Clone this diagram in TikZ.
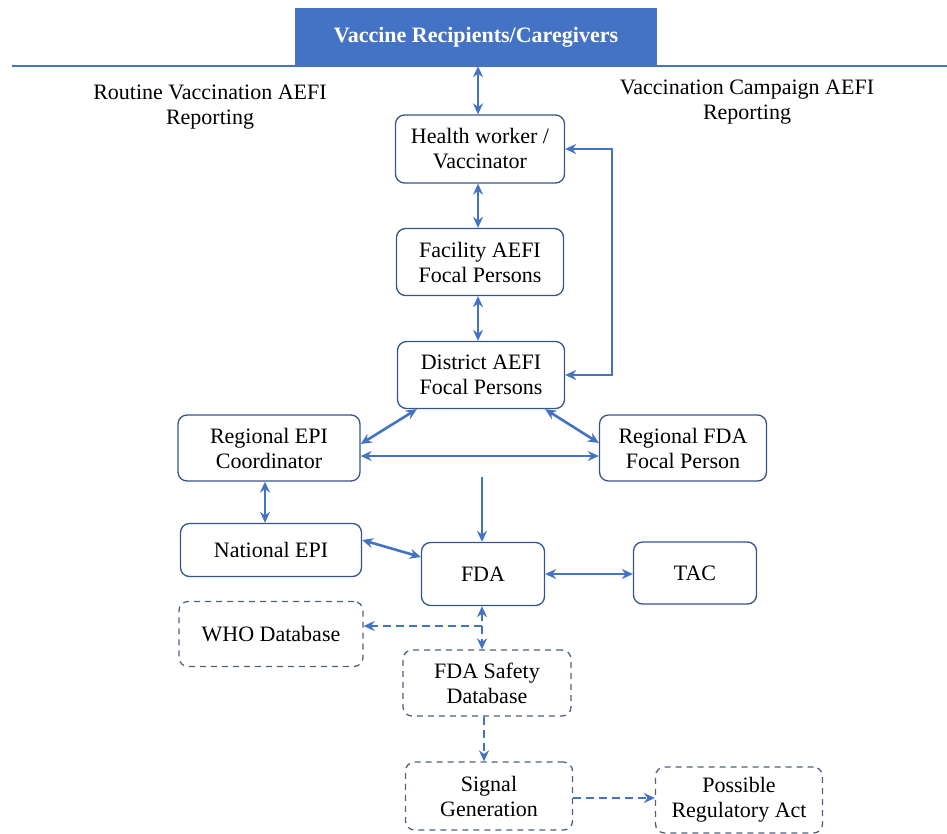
\documentclass[tikz,border=0pt]{standalone}
\usepackage{fontspec}
\setmainfont{Liberation Serif}
\usetikzlibrary{arrows.meta}
\definecolor{aefiblue}{RGB}{68,114,196}
\definecolor{boxline}{RGB}{52,84,140}
\definecolor{dashline}{RGB}{80,96,125}
\begin{document}
\begin{tikzpicture}[x=1pt,y=-1pt]
\tikzstyle{every node}=[font=\fontsize{22}{25}\selectfont, align=center, inner sep=0pt]
\tikzstyle{box}=[draw=boxline, line width=1.3pt, rounded corners=9pt]
\tikzstyle{dbox}=[draw=dashline, line width=1.3pt, rounded corners=9pt, dash pattern=on 6pt off 5pt]
\tikzstyle{link}=[draw=aefiblue, line width=2.6pt, {Stealth[length=11pt,width=10pt]}-{Stealth[length=11pt,width=10pt]}]
\tikzstyle{dlink}=[link, dash pattern=on 8pt off 5pt]
\useasboundingbox (0,0) rectangle (947,833);
\draw (476,37) node (recip) [fill=aefiblue, text=white, font=\fontsize{22}{25}\selectfont\bfseries, minimum width=362, minimum height=58] {Vaccine Recipients/Caregivers};
\draw[aefiblue, line width=2pt] (12,66) -- (947,66);
\draw (210,107) node (routine) {Routine Vaccination AEFI\\Reporting};
\draw (747,102) node (campaign) {Vaccination Campaign AEFI\\Reporting};
\draw (480,149) node (health) [box, minimum width=169, minimum height=68] {Health worker /\\Vaccinator};
\draw (480,262) node (facility) [box, minimum width=167, minimum height=67] {Facility AEFI\\Focal Persons};
\draw (481,375) node (district) [box, minimum width=167, minimum height=67] {District AEFI\\Focal Persons};
\draw (269,448) node (regepi) [box, minimum width=182, minimum height=66] {Regional EPI\\Coordinator};
\draw (683,448) node (regfda) [box, minimum width=167, minimum height=66] {Regional FDA\\Focal Person};
\draw (271,550) node (natepi) [box, minimum width=181, minimum height=53] {National EPI};
\draw (483,574) node (fda) [box, minimum width=123, minimum height=63] {FDA};
\draw (695,573) node (tac) [box, minimum width=123, minimum height=62] {TAC};
\draw (271,634) node (who) [dbox, minimum width=184, minimum height=65] {WHO Database};
\draw (487,683) node (safety) [dbox, minimum width=168, minimum height=66] {FDA Safety\\Database};
\draw (489,796) node (signal) [dbox, minimum width=167, minimum height=68] {Signal\\Generation};
\draw (739,800) node (regact) [dbox, minimum width=167, minimum height=66] {Possible\\Regulatory Act};
\coordinate (split) at (482,477);
\coordinate (junc) at (482,626);
\draw[link] ([xshift=-2pt]health.north |- recip.south) -- ([xshift=-2pt]health.north);
\draw[link] ([xshift=-2pt]health.south) -- ([xshift=-2pt]facility.north);
\draw[link] ([xshift=-2pt]facility.south) -- ([xshift=-3pt]district.north);
\draw[link] (district.east) -- ++(47,0) |- (health.east);
\draw[link] ([xshift=20pt]district.south west) -- ([yshift=4pt]regepi.east);
\draw[link] ([xshift=-20pt]district.south east) -- ([yshift=5pt]regfda.west);
\draw[link] ([yshift=-8pt]regepi.east) -- ([yshift=-8pt]regfda.west);
\draw[link, -{Stealth[length=11pt,width=10pt]}] (split) -- (split |- fda.north);
\draw[link] ([xshift=-4pt]regepi.south) -- ([xshift=-4pt]regepi.south |- natepi.north);
\draw[link] ([yshift=10pt]natepi.east) -- ([yshift=17pt]fda.west);
\draw[link] (fda.east) -- (fda.east -| tac.west);
\draw[dlink] (junc |- fda.south) -- (junc |- safety.north);
\draw[dlink, -{Stealth[length=11pt,width=10pt]}] (junc) -- (junc -| who.east);
\draw[dlink, -{Stealth[length=11pt,width=10pt]}] ([xshift=-3pt]safety.south) -- ([xshift=-5pt]signal.north);
\draw[dlink, -{Stealth[length=11pt,width=10pt]}] ([yshift=-2pt]signal.east) -- ([yshift=-2pt]signal.east -| regact.west);
\end{tikzpicture}
\end{document}
